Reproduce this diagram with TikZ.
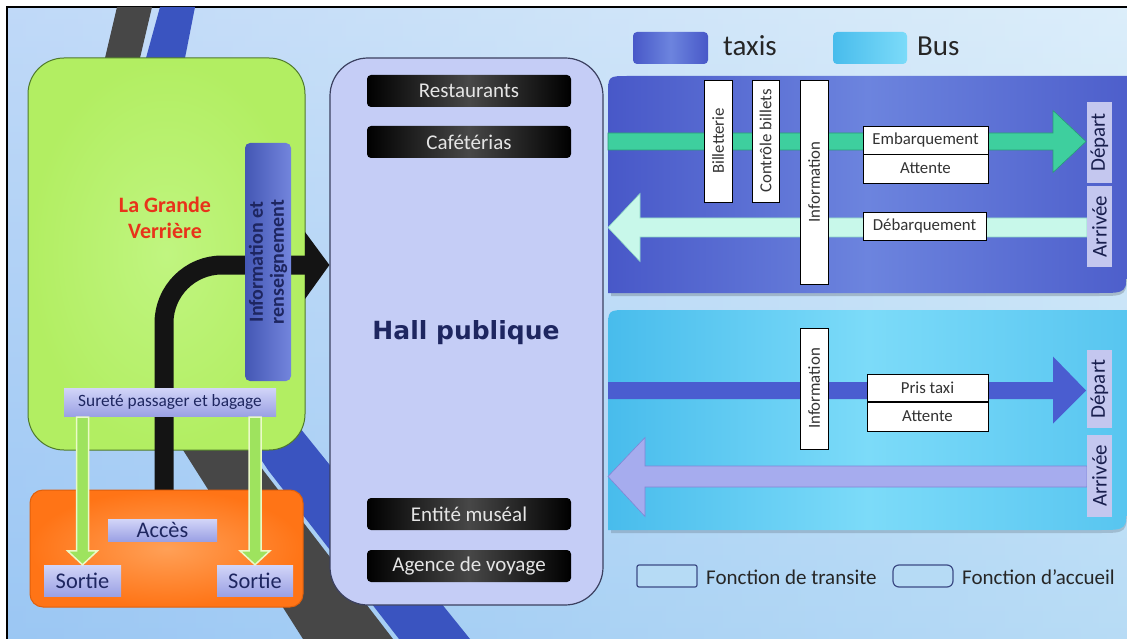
\documentclass[tikz,border=0pt]{standalone}
\usepackage{fontspec}
\setmainfont{Carlito}
\newfontfamily\hallfont{DejaVu Sans}
\usetikzlibrary{calc}
\definecolor{bgtop}{HTML}{DCEEFA}
\definecolor{bgbot}{HTML}{A4D2F3}
\definecolor{bandgrey}{HTML}{474747}
\definecolor{bandblue}{HTML}{3A54C0}
\definecolor{greenfill}{HTML}{B2EE62}
\definecolor{greenin}{HTML}{C0F580}
\definecolor{greenedge}{HTML}{4F7A2C}
\definecolor{orangeout}{HTML}{FF7416}
\definecolor{orangein}{HTML}{FFA057}
\definecolor{orangeedge}{HTML}{E0600C}
\definecolor{hallfill}{HTML}{C5CDF6}
\definecolor{halledge}{HTML}{3B4060}
\definecolor{lavT}{HTML}{D2D5F8}
\definecolor{lavB}{HTML}{9BA1E4}
\definecolor{navy}{HTML}{1E2660}
\definecolor{infoblue}{HTML}{5066D4}
\definecolor{taxiA}{HTML}{4858C8}
\definecolor{taxiB}{HTML}{6C84DE}
\definecolor{busA}{HTML}{48BCEC}
\definecolor{busB}{HTML}{7CDBF9}
\definecolor{teal}{HTML}{3ECF9E}
\definecolor{tealedge}{HTML}{2A9A78}
\definecolor{mint}{HTML}{C8F8EA}
\definecolor{mintedge}{HTML}{8FD8C6}
\definecolor{arrblue}{HTML}{4A5DD0}
\definecolor{arrlav}{HTML}{A6ACEE}
\definecolor{arrlavedge}{HTML}{7F86D6}
\definecolor{depfill}{HTML}{C4C7EF}
\definecolor{gArrow}{HTML}{9EE35E}
\definecolor{gArrowEdge}{HTML}{EAFAC8}
\definecolor{redtitle}{HTML}{E8331A}
\definecolor{legendedge}{HTML}{3C4B85}
\definecolor{legendfill}{HTML}{B6DBF5}
\tikzset{
  lav/.style={rectangle, top color=lavT, bottom color=lavB, text=navy, inner sep=0pt},
  blk/.style={rectangle, rounded corners=4pt, left color=black, right color=black, middle color=black!72,
              text=white!90!black, minimum width=204pt, minimum height=32pt,
              font=\fontsize{21}{22}\selectfont, inner sep=0pt},
  wbox/.style={rectangle, draw=black, line width=0.9pt, fill=white, text=black!80,
               font=\fontsize{16.8}{17}\selectfont, inner sep=0pt},
  vlab/.style={rectangle, fill=depfill, text=navy!80!black, rotate=90, minimum height=25pt,
               font=\fontsize{21}{22}\selectfont, inner sep=0pt},
  garrow/.style={fill=gArrow, draw=gArrowEdge, line width=1.5pt},
  legtext/.style={anchor=west, inner sep=0pt, text=black!85, font=\fontsize{21}{22}\selectfont},
}
\begin{document}
\begin{tikzpicture}[x=1pt,y=-1pt]
\useasboundingbox (0,0) rectangle (1127,639);
\fill[white] (0,0) rectangle (1127,639);
% background
\shade[top color=bgtop, bottom color=bgbot] (7,7) rectangle (1127,639);
\shade[left color=bgbot!85!blue, right color=bgtop, opacity=0.35] (7,7) rectangle (1127,639);
\draw[line width=1.3pt, black] (1127,7) -- (7,7) -- (7,639);
% diagonal bands
\fill[bandgrey] (117,7) -- (152,7) -- (140,58) -- (253,455) -- (263,470) -- (393,639)
  -- (303,639) -- (183,450) -- (105,58) -- cycle;
\fill[bandblue] (160,7) -- (195,7) -- (185,58) -- (300,428) -- (470,639) -- (399,639)
  -- (268,470) -- (258,455) -- (146,58) -- cycle;

% legend top
\node[rectangle, rounded corners=4pt, left color=taxiA, right color=taxiA, middle color=taxiB,
      minimum width=75pt, minimum height=32pt, inner sep=0pt] (swtaxi) at (670.5,48) {};
\node[anchor=west, inner sep=0pt, text=black!85, font=\fontsize{29}{30}\selectfont] (ltaxi) at (723,46) {taxis};
\node[rectangle, rounded corners=4pt, left color=busA, right color=busB,
      minimum width=74pt, minimum height=32pt, inner sep=0pt] (swbus) at (870,48) {};
\node[anchor=west, inner sep=0pt, text=black!85, font=\fontsize{29}{30}\selectfont] (lbus) at (917,46) {Bus};

% taxi panel
\fill[black, opacity=0.18] (611,296) -- (611,99) .. controls (611,79) .. (631,79) -- (1127,79)
  -- (1127,268) .. controls (1127,296) .. (1099,296) -- cycle;
\shade[left color=taxiA, right color=taxiA!85!taxiB, middle color=taxiB]
  (608,293) -- (608,96) .. controls (608,76) .. (628,76) -- (1127,76)
  -- (1127,265) .. controls (1127,293) .. (1099,293) -- cycle;
% bus panel
\fill[black, opacity=0.15] (611,533) -- (611,333) .. controls (611,313) .. (631,313) -- (1127,313)
  -- (1127,505) .. controls (1127,533) .. (1099,533) -- cycle;
\shade[left color=busA, right color=busA!70!busB, middle color=busB]
  (608,530) -- (608,330) .. controls (608,310) .. (628,310) -- (1127,310)
  -- (1127,502) .. controls (1127,530) .. (1099,530) -- cycle;

% taxi flows
\coordinate (tDepS) at (608,141.5);
\coordinate (tDepE) at (1086,141.5);
\fill[teal, draw=tealedge, line width=0.6pt] ($(tDepS)+(0,-8.5)$) -- ($(tDepE)+(-33,-8.5)$) -- ($(tDepE)+(-33,-31)$)
  -- (tDepE) -- ($(tDepE)+(-33,31)$) -- ($(tDepE)+(-33,8.5)$) -- ($(tDepS)+(0,8.5)$) -- cycle;
\coordinate (tArrS) at (1087,227.5);
\coordinate (tArrE) at (608,227.5);
\fill[mint, draw=mintedge, line width=0.6pt] ($(tArrS)+(0,-9.5)$) -- ($(tArrE)+(32,-9.5)$) -- ($(tArrE)+(32,-34)$)
  -- (tArrE) -- ($(tArrE)+(32,34)$) -- ($(tArrE)+(32,9.5)$) -- ($(tArrS)+(0,9.5)$) -- cycle;

% bus flows
\coordinate (bDepS) at (608,390.5);
\coordinate (bDepE) at (1086,390.5);
\fill[arrblue] ($(bDepS)+(0,-8.5)$) -- ($(bDepE)+(-33,-8.5)$) -- ($(bDepE)+(-33,-34)$)
  -- (bDepE) -- ($(bDepE)+(-33,33)$) -- ($(bDepE)+(-33,8.5)$) -- ($(bDepS)+(0,8.5)$) -- cycle;
\coordinate (bArrS) at (1087,476.5);
\coordinate (bArrE) at (608,476.5);
\fill[arrlav, draw=arrlavedge, line width=0.6pt] ($(bArrS)+(0,-10.5)$) -- ($(bArrE)+(37,-10.5)$) -- ($(bArrE)+(37,-39)$)
  -- (bArrE) -- ($(bArrE)+(37,40)$) -- ($(bArrE)+(37,10.5)$) -- ($(bArrS)+(0,10.5)$) -- cycle;

% taxi panel boxes
\node[wbox, rotate=90, minimum width=122pt, minimum height=28pt] (bill) at (718,141) {Billetterie};
\node[wbox, rotate=90, minimum width=122pt, minimum height=27pt] (ctrl) at (765.5,141) {Contrôle billets};
\node[wbox, rotate=90, minimum width=204pt, minimum height=28pt] (infT) at (814,182) {Information};
\node[wbox, minimum width=125pt, minimum height=28pt] (emb) at (925.5,140) {Embarquement};
\node[wbox, minimum width=125pt, minimum height=29pt] (attT) at (925.5,168.5) {Attente};
\node[wbox, minimum width=123pt, minimum height=28pt] (deb) at (924.5,226) {Débarquement};
\node[vlab, minimum width=81pt] (depT) at (1099.5,142.5) {Départ};
\node[vlab, minimum width=81pt] (arrT) at (1099.5,226.5) {Arrivée};

% bus panel boxes
\node[wbox, rotate=90, minimum width=121pt, minimum height=28pt] (infB) at (814,388.5) {Information};
\node[wbox, minimum width=121pt, minimum height=27pt] (pris) at (927.5,387.5) {Pris taxi};
\node[wbox, minimum width=121pt, minimum height=29pt] (attB) at (927.5,416.5) {Attente};
\node[vlab, minimum width=78pt] (depB) at (1099.5,389) {Départ};
\node[vlab, minimum width=82pt] (arrB) at (1099.5,476) {Arrivée};

% bottom legend
\node[rectangle, rounded corners=2pt, draw=legendedge, line width=1.2pt, fill=legendfill,
      minimum width=60pt, minimum height=22pt, inner sep=0pt] (swtr) at (667,576) {};
\node[legtext] (ltr) at (706,577) {Fonction de transite};
\node[rectangle, rounded corners=6pt, draw=legendedge, line width=1.2pt, fill=legendfill,
      minimum width=60pt, minimum height=22pt, inner sep=0pt] (swac) at (923,576) {};
\node[legtext] (lac) at (962,577) {Fonction d’accueil};

% hall
\node[rectangle, rounded corners=38pt, fill=hallfill, draw=halledge, line width=1.2pt,
      minimum width=273pt, minimum height=547pt, inner sep=0pt] (hall) at (466.5,331.5) {};
\node[text=navy, draw=navy, line width=0.5pt, font=\hallfont\bfseries\fontsize{25}{26}\selectfont, inner sep=0pt, draw=none] (hallt) at (466,333) {Hall publique};
\node[blk] (rest) at (469,91) {Restaurants};
\node[blk] (cafe) at (469,142) {Cafétérias};
\node[blk] (musee) at (469,514) {Entité muséal};
\node[blk] (agence) at (469,566) {Agence de voyage};

% green box
\node[rectangle, rounded corners=36pt, inner color=greenin, outer color=greenfill, draw=greenedge, line width=1pt,
      minimum width=277pt, minimum height=392pt, inner sep=0pt] (verr) at (166.5,254) {};
\node[text=redtitle, font=\bfseries\fontsize{22}{26}\selectfont, align=center, inner sep=0pt] (verrt) at (165,218) {La Grande\\Verrière};

% black arrow into the hall
\coordinate (stem) at (164,495);
\coordinate (headb) at (306,265);
\draw[line width=19pt, color=black!92, rounded corners=58pt] (stem) |- (headb);
\fill[black!92] ($(headb)+(-1,-33)$) -- (hall.west |- headb) -- ($(headb)+(-1,34)$) -- cycle;

% information box
\node[rectangle, rounded corners=5pt, left color=infoblue!85!black, right color=infoblue!80!white, rotate=90,
      minimum width=238pt, minimum height=46pt, inner sep=0pt, align=center, text=navy,
      font=\bfseries\fontsize{20}{21}\selectfont] (info) at (268,262) {Information et\\renseignement};

% surete
\node[lav, minimum width=212pt, minimum height=28pt, font=\fontsize{17.3}{18}\selectfont] (sur) at (170,402) {Sureté passager et bagage};

% orange box
\node[rectangle, rounded corners=13pt, inner color=orangein, outer color=orangeout, draw=orangeedge, line width=1pt,
      minimum width=273pt, minimum height=117pt, inner sep=0pt] (orange) at (166.5,548.5) {};
\node[lav, minimum width=109pt, minimum height=22pt, font=\fontsize{22.3}{23}\selectfont] (acces) at (162.5,530) {Accès};
\node[lav, minimum width=77pt, minimum height=31pt, font=\fontsize{22.4}{23}\selectfont] (sortL) at (82.5,580.5) {Sortie};
\node[lav, minimum width=76pt, minimum height=31pt, font=\fontsize{22.4}{23}\selectfont] (sortR) at (255,580.5) {Sortie};

% green arrows from surete to exits
\coordinate (gL1) at (sur.south -| sortL.north);
\coordinate (gL2) at (sortL.north);
\fill[garrow] ($(gL1)+(-6,1)$) -- ($(gL2)+(-6,-14)$) -- ($(gL2)+(-15,-14)$) -- (gL2)
  -- ($(gL2)+(15,-14)$) -- ($(gL2)+(6,-14)$) -- ($(gL1)+(6,1)$) -- cycle;
\coordinate (gR1) at (sur.south -| sortR.north);
\coordinate (gR2) at (sortR.north);
\fill[garrow] ($(gR1)+(-6,1)$) -- ($(gR2)+(-6,-14)$) -- ($(gR2)+(-15,-14)$) -- (gR2)
  -- ($(gR2)+(15,-14)$) -- ($(gR2)+(6,-14)$) -- ($(gR1)+(6,1)$) -- cycle;
\end{tikzpicture}
\end{document}
